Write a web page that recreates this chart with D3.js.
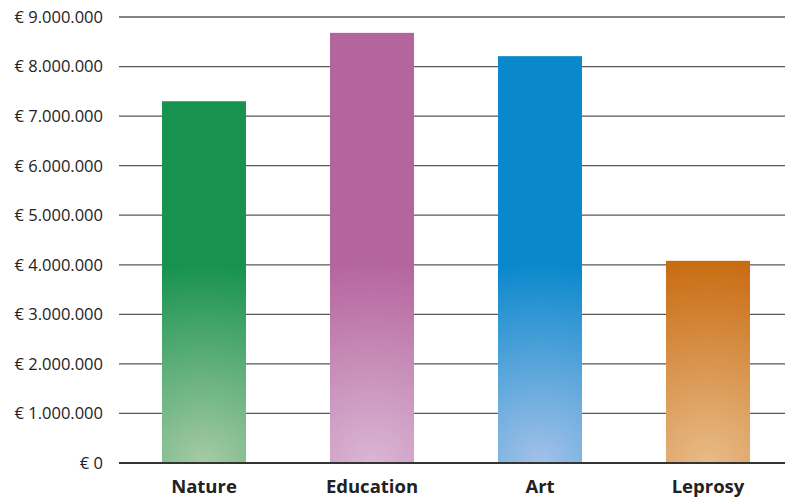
<!DOCTYPE html>
<html><head><meta charset="utf-8">
<script src="https://cdn.jsdelivr.net/npm/d3@7/dist/d3.min.js"></script>
<style>body{margin:0;background:#fff}svg{display:block}</style>
</head><body>
<svg id="c" width="785" height="501"></svg>
<script>
const categories = ["Nature", "Education", "Art", "Leprosy"];
const values = [7300000, 8680000, 8210000, 4080000];
const topColors = ["#17924f", "#b5659e", "#0a88cc", "#c96d14"];
const bottomColors = ["#a6cba3", "#dab6d4", "#a3c1e8", "#e8bb88"];
const yTicks = [0,1000000,2000000,3000000,4000000,5000000,6000000,7000000,8000000,9000000];

const svg = d3.select("#c");
const x = d3.scaleBand().domain(categories).range([120, 792]).paddingInner(0.5).paddingOuter(0.25);
const y = d3.scaleLinear().domain([0, 9000000]).range([463, 17]);

const fmt = v => "€ " + d3.format(",")(v).replace(/,/g, ".");

// gridlines
svg.append("g").selectAll("line").data(yTicks.filter(d => d > 0)).join("line")
  .attr("x1", 119).attr("x2", 785)
  .attr("y1", d => y(d)).attr("y2", d => y(d))
  .attr("stroke", "#5a5a5a").attr("stroke-width", 1.3);

// gradients
const defs = svg.append("defs");
categories.forEach((c, i) => {
  const cx = x(c) + x.bandwidth() / 2;
  const g = defs.append("radialGradient").attr("id", "g" + i)
    .attr("gradientUnits", "userSpaceOnUse")
    .attr("cx", cx).attr("cy", y(0)).attr("r", 200)
    .attr("fx", cx).attr("fy", y(0));
  g.append("stop").attr("offset", "0%").attr("stop-color", bottomColors[i]);
  g.append("stop").attr("offset", "100%").attr("stop-color", topColors[i]);
});

svg.append("g").selectAll("rect").data(values).join("rect")
  .attr("x", (d, i) => x(categories[i]))
  .attr("width", x.bandwidth())
  .attr("y", d => y(d))
  .attr("height", d => y(0) - y(d))
  .attr("fill", (d, i) => "url(#g" + i + ")");

// baseline
svg.append("line").attr("x1", 119).attr("x2", 785).attr("y1", y(0)).attr("y2", y(0))
  .attr("stroke", "#333").attr("stroke-width", 2);

// y labels
svg.append("g").selectAll("text").data(yTicks).join("text")
  .attr("x", 103).attr("y", d => y(d)).attr("dy", "0.36em")
  .attr("text-anchor", "end")
  .attr("font-family", "'Open Sans', 'Noto Sans', sans-serif")
  .attr("font-size", 16.5).attr("fill", "#222")
  .text(fmt);

// x labels
svg.append("g").selectAll("text").data(categories).join("text")
  .attr("x", d => x(d) + x.bandwidth() / 2).attr("y", 493)
  .attr("text-anchor", "middle")
  .attr("font-family", "'Open Sans', 'Noto Sans', sans-serif")
  .attr("font-weight", "bold").attr("font-size", 18.5).attr("fill", "#222")
  .text(d => d);
</script>
</body></html>
